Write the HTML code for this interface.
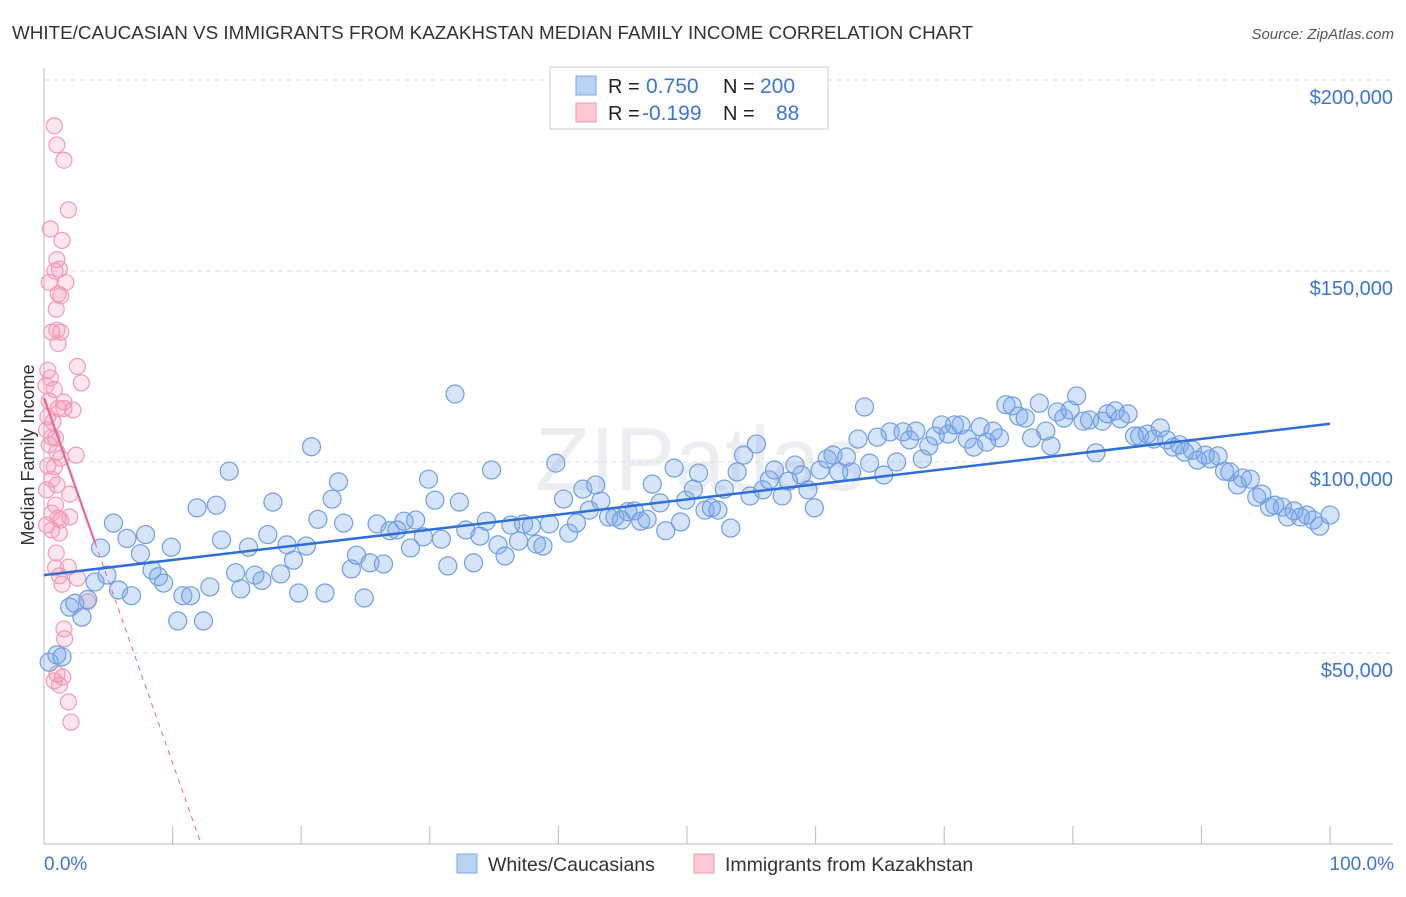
<!DOCTYPE html>
<html><head><meta charset="utf-8"><style>
body{margin:0;background:#fff;font-family:"Liberation Sans",sans-serif;}
svg text{font-family:"Liberation Sans",sans-serif;}
</style></head><body>
<svg id="chart" width="1406" height="892">
<text x="12" y="39" font-size="18" fill="#333" textLength="961" lengthAdjust="spacingAndGlyphs">WHITE/CAUCASIAN VS IMMIGRANTS FROM KAZAKHSTAN MEDIAN FAMILY INCOME CORRELATION CHART</text>
<text x="1394" y="39" font-size="15" fill="#555" text-anchor="end" font-style="italic">Source: ZipAtlas.com</text>
<text x="700" y="490" font-size="90" fill="#eceef1" text-anchor="middle" font-family="Liberation Serif">ZIPatlas</text>
<g id="grid"></g><g id="axes"></g><g id="pts"></g><g id="trends"></g>
<text transform="translate(34,455) rotate(-90)" font-size="18" fill="#333" text-anchor="middle">Median Family Income</text>
<text x="44" y="870" font-size="19" fill="#3b76d6">0.0%</text>
<text x="1394" y="870" font-size="19" fill="#3b76d6" text-anchor="end">100.0%</text>
<g>
<rect x="550" y="67" width="278" height="62" fill="#fff" stroke="#ccc"/>
<rect x="576" y="76" width="20" height="19" fill="#b9d3f5" stroke="#7aa7e6"/>
<rect x="576" y="103" width="20" height="19" fill="#fbc8d6" stroke="#f09ab6"/>
<text x="608" y="93" font-size="20" fill="#222">R = </text><text x="646" y="93" font-size="21" fill="#3b76d6">0.750</text>
<text x="723" y="93" font-size="20" fill="#222">N = </text><text x="760" y="93" font-size="21" fill="#3b76d6">200</text>
<text x="608" y="120" font-size="20" fill="#222">R = </text><text x="642" y="120" font-size="21" fill="#3b76d6">-0.199</text>
<text x="723" y="120" font-size="20" fill="#222">N = </text><text x="776" y="120" font-size="21" fill="#3b76d6">88</text>
</g>
<g>
<rect x="457" y="854" width="20" height="19" fill="#b9d3f5" stroke="#7aa7e6"/>
<text x="488" y="871" font-size="19.5" fill="#333">Whites/Caucasians</text>
<rect x="694" y="854" width="20" height="19" fill="#fbc8d6" stroke="#f09ab6"/>
<text x="725" y="871" font-size="19.5" fill="#333">Immigrants from Kazakhstan</text>
</g>
</svg>
<script>
const yTicks=[50000,100000,150000,200000];
const yTickLabels=["$50,000","$100,000","$150,000","$200,000"];
const xTicks=[0,10,20,30,40,50,60,70,80,90,100];
const blueX=[0.4,1.0,1.4,2.0,2.4,2.95,3.4,3.97,4.4,4.9,5.4,5.8,6.45,6.8,7.5,7.9,8.4,8.9,9.3,9.9,10.4,10.8,11.4,11.9,12.4,12.9,13.4,13.8,14.4,14.9,15.3,15.9,16.4,16.95,17.4,17.8,18.4,18.9,19.4,19.8,20.4,20.8,21.3,21.85,22.4,22.9,23.3,23.9,24.3,24.9,25.35,25.9,26.4,26.9,27.45,28,28.5,28.9,29.5,29.9,30.4,30.9,31.4,31.96,32.3,32.8,33.4,33.9,34.4,34.8,35.3,35.85,36.3,36.9,37.3,37.9,38.3,38.8,39.3,39.8,40.4,40.8,41.4,41.9,42.4,42.9,43.3,43.9,44.4,44.9,45.4,45.9,46.4,46.9,47.3,47.9,48.35,49,49.5,49.9,50.5,50.9,51.4,51.9,52.4,52.9,53.4,53.9,54.4,54.9,55.4,55.9,56.4,56.8,57.4,57.9,58.4,58.9,59.4,59.9,60.35,60.9,61.35,61.8,62.4,62.8,63.3,63.8,64.2,64.8,65.3,65.8,66.3,66.8,67.3,67.8,68.3,68.8,69.3,69.8,70.3,70.8,71.3,71.8,72.3,72.8,73.3,73.8,74.3,74.8,75.3,75.8,76.3,76.8,77.4,77.9,78.3,78.8,79.3,79.8,80.3,80.8,81.3,81.8,82.3,82.7,83.3,83.7,84.3,84.8,85.2,85.8,86.3,86.8,87.3,87.8,88.3,88.7,89.3,89.7,90.3,90.7,91.3,91.8,92.2,92.8,93.2,93.8,94.3,94.7,95.3,95.7,96.3,96.7,97.2,97.7,98.2,98.7,99.2,100];
const blueY=[47.6,49.5,49,62,63,59.4,64,68.6,77.5,70.4,84,66.5,80,65,76,81,71.7,70,68.3,77.7,58.4,65,65,88,58.4,67.3,88.7,79.6,97.6,71,66.8,77.7,70.4,69,81,89.5,70.7,78.3,74.3,65.7,78,104,85,65.7,90.3,94.8,84,72,75.6,64.4,73.6,83.8,73.3,82,82.2,84.5,77.5,84.8,80.4,95.5,90,79.8,72.8,117.8,89.5,82.2,73.6,80.6,84.5,97.9,78.3,75.4,83.5,79.3,83.8,83.2,78.5,78,83.8,99.7,90.3,81.4,84,92.9,87.4,94,89.8,85.6,85.6,84.8,87,87.2,84.5,85,94.2,89.3,82,98.4,84.3,90,92.9,97.1,87.4,88,87.4,92.9,82.7,97.4,101.8,91.1,104.7,92.7,95.3,97.9,91.1,95,99.2,96.6,92.7,88,97.9,100.8,101.8,97.4,101.3,97.4,106,114.4,99.7,106.5,96.6,107.9,100,107.9,105.8,108.1,100.8,104.2,106.8,109.7,107.3,109.7,109.7,106,103.9,109.2,105.2,108.1,106.3,115,114.7,112,111.5,106.3,115.4,108.1,104.2,113.1,111.5,113.6,117.3,110.7,111,102.4,110.7,112.6,113.4,111.3,112.6,106.8,106.8,107.3,106,108.9,105.8,103.9,104.5,102.6,103.1,100.5,101.8,100.8,101.6,97.6,97.4,94,95.8,95.5,90.8,91.6,88.2,88.7,88.2,85.6,87.2,85.6,86.1,84.8,83.2,86.1];
const pinkX=[0.8,1.0,1.55,1.9,0.5,1.4,1.0,0.85,1.2,1.7,0.4,1.1,1.3,0.95,1.0,1.3,0.6,1.1,2.6,0.3,0.5,2.9,0.15,0.8,0.4,1.55,1.1,1.55,2.25,0.3,0.7,0.2,0.6,0.9,0.4,1.0,2.5,1.3,0.3,0.8,0.6,1.0,0.2,2.0,0.9,0.6,1.1,2.0,1.3,0.2,0.6,1.2,0.95,0.9,1.9,1.2,2.6,1.4,3.4,1.55,1.6,1.0,1.45,0.8,1.2,1.9,2.1];
const pinkY=[188,183,179,166,161,158,153,150,150.5,147,147,144,143.5,140,134.5,134,134,131,125,124,122,120.7,120,119,116,115.7,114,114,113.6,111.8,110.5,108.4,106.5,106.3,104.5,102.6,101.8,101,99,98.7,95.5,94,92.7,91.6,88.7,86.6,85.3,85.6,84.8,83.5,82.2,81.4,76.2,72.3,72.5,70.2,69.6,68,63.4,56.3,53.7,44.5,43.7,42.7,41.6,37.2,31.9];
const blueTrend=[70.4,110];
const pinkTrend=[116.8,-9.56];
const NS="http://www.w3.org/2000/svg";
const X=p=>44+p*12.86, Y=v=>844-v*0.00382;
function mk(t,a,parent){const e=document.createElementNS(NS,t);for(const k in a)e.setAttribute(k,a[k]);document.getElementById(parent).appendChild(e);return e;}
yTicks.forEach((v,i)=>{
 const l=mk('line',{x1:44,x2:1393,y1:Y(v),y2:Y(v),stroke:'#ddd','stroke-dasharray':'5,4'},'grid');
 
 
 const t=mk('text',{x:1393,y:Y(v)+24,'font-size':20,fill:'#3b76d6','text-anchor':'end'},'grid');t.textContent=yTickLabels[i];
 
 
});
let ax=mk('line',{x1:44,x2:44,y1:68,y2:844,stroke:'#bbb'},'axes');


ax=mk('line',{x1:44,x2:1393,y1:844,y2:844,stroke:'#bbb'},'axes');


xTicks.forEach(p=>{const t=mk('line',{x1:X(p),x2:X(p),y1:826,y2:844,stroke:'#bbb'},'axes');
 
 });
pinkX.forEach((p,i)=>{const c=mk('circle',{cx:X(p),cy:Y(pinkY[i]*1000),r:8,fill:'rgba(244,150,180,0.25)',stroke:'#f29ab8','stroke-width':1.2},'pts');
 
 });
blueX.forEach((p,i)=>{const c=mk('circle',{cx:X(p),cy:Y(blueY[i]*1000),r:9,fill:'rgba(120,165,235,0.3)',stroke:'#6f9fe2','stroke-width':1.2},'pts');
 
 });
let tl=mk('line',{x1:X(0),y1:Y(blueTrend[0]*1000),x2:X(100),y2:Y(blueTrend[1]*1000),stroke:'#2f6fd6','stroke-width':2.5},'trends');


const pz=-pinkTrend[0]/pinkTrend[1];
tl=mk('line',{x1:X(0),y1:Y(pinkTrend[0]*1000),x2:X(3.97),y2:Y((pinkTrend[0]+pinkTrend[1]*3.97)*1000),stroke:'#e9668f','stroke-width':2.2},'trends');


tl=mk('line',{x1:X(3.97),y1:Y((pinkTrend[0]+pinkTrend[1]*3.97)*1000),x2:X(pz),y2:Y(0),stroke:'#e9668f','stroke-width':1,'stroke-dasharray':'5,5'},'trends');


</script>
</body></html>
